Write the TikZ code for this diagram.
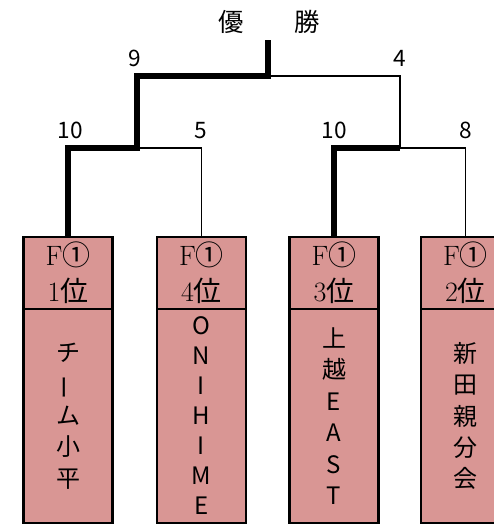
\documentclass[tikz,border=0pt]{standalone}
\usepackage{fontspec}
\usepackage{graphicx}
\usepackage{xcolor}
\newfontfamily\cjk{Noto Sans CJK JP}
\usepackage{tikz}
\usetikzlibrary{calc}
\definecolor{seedpink}{RGB}{217,150,148}
\tikzset{every picture/.style={line width=0.75pt}}

\begin{document}
\begin{tikzpicture}[x=0.75pt,y=0.75pt,yscale=-1,xscale=1,
	seedbox/.style={draw, fill=seedpink, line width=2.2pt, minimum width=66.75pt, minimum height=54pt, outer sep=0pt, inner sep=0pt, align=center, font=\fontsize{21}{27}\selectfont},
	teambox/.style={draw, fill=seedpink, line width=2.2pt, minimum width=66.75pt, minimum height=160.5pt, outer sep=0pt, inner sep=0pt, align=center, anchor=north, font=\cjk\fontsize{18}{23.6}\selectfont},
	win/.style={line width=4.9pt},
	lose/.style={line width=1.3pt},
	score/.style={anchor=base, inner sep=0.75pt, font=\cjk\fontsize{17}{20}\selectfont}]
					\useasboundingbox (0,0) rectangle (493,524);
					%Shape: Rectangle
					\node[seedbox] (seed1) at (68,273) {F{\cjk ①}\\1{\cjk 位}};
					\node[teambox] (team1) at (seed1.south) {チ\\\rotatebox[origin=c]{90}{ー}\\ム\\小\\平};
					%Shape: Rectangle
					\node[seedbox] (seed2) at (201.5,273) {F{\cjk ①}\\4{\cjk 位}};
					\node[teambox, font=\cjk\fontsize{18}{22.5}\selectfont] (team2) at (seed2.south) {O\\N\\I\\H\\I\\M\\E};
					%Shape: Rectangle
					\node[seedbox] (seed3) at (334,273) {F{\cjk ①}\\3{\cjk 位}};
					\node[teambox] (team3) at (seed3.south) {上\\越\\E\\A\\S\\T};
					%Shape: Rectangle
					\node[seedbox] (seed4) at (465.5,273) {F{\cjk ①}\\2{\cjk 位}};
					\node[teambox] (team4) at (seed4.south) {新\\田\\親\\分\\会};
					% Joints
					\coordinate (m1) at (137,148);
					\coordinate (m2) at (400,148);
					\coordinate (fin) at (268,76);
					\coordinate (champ) at (268,40);
					%Straight Lines
					\draw[win] (seed1.north) |- (m1) |- (fin) -- (champ);
					%Straight Lines
					\draw[lose] (m1) -| (seed2.north);
					%Straight Lines
					\draw[lose] (fin) -| (m2);
					%Straight Lines
					\draw[win] (seed3.north) |- (m2);
					%Straight Lines
					\draw[lose] (m2) -| (seed4.north);
					% Text Node
					\node[font=\cjk\fontsize{19}{20}\selectfont] (title) at (269,22) {優　　勝};
					% Text Node
					\node[score] (sc9) at (135,67) {9};
					% Text Node
					\node[score] (sc4) at (400,67) {4};
					% Text Node
					\node[score] (sc10a) at (70,138) {10};
					% Text Node
					\node[score] (sc5) at (201,138) {5};
					% Text Node
					\node[score] (sc10b) at (334,138) {10};
					% Text Node
					\node[score] (sc8) at (466,138) {8};
\end{tikzpicture}
\end{document}
